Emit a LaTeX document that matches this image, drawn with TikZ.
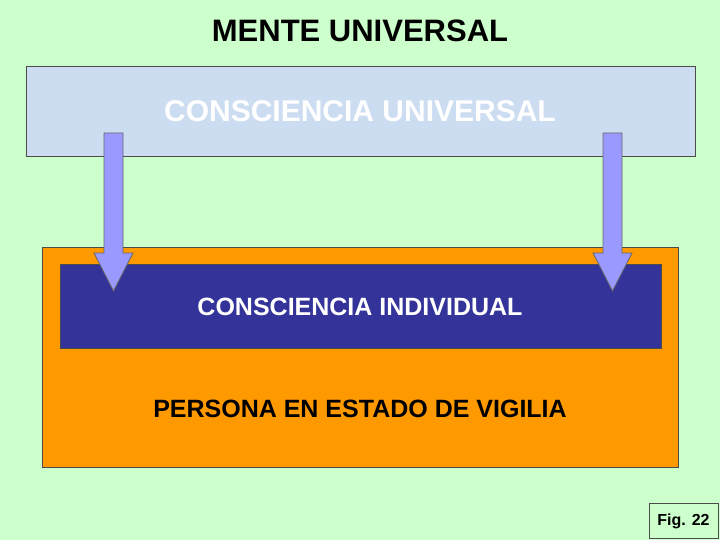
\documentclass[tikz,border=0pt]{standalone}
\usepackage{fontspec}
\setmainfont{Liberation Sans}
\definecolor{bg}{HTML}{CCFFCC}
\definecolor{lblue}{HTML}{CCDDF2}
\definecolor{orng}{HTML}{FF9900}
\definecolor{dblue}{HTML}{333399}
\definecolor{arr}{HTML}{9999FF}
\tikzset{
  boxst/.style={draw=black!70, line width=0.8pt},
  arrowst/.style={fill=arr, draw=black!60, line width=0.8pt},
  lbl/.style={font=\bfseries\fontsize{#1}{#1}\selectfont, inner sep=0pt}
}
\begin{document}
\begin{tikzpicture}[x=1pt,y=-1pt]
\fill[bg] (0,0) rectangle (720,540);
\useasboundingbox (0,0) rectangle (720,540);
\node[lbl=31] (title) at (360,31) {MENTE UNIVERSAL};
\draw[boxst, fill=lblue] (26,66) rectangle (695,156);
\node[lbl=30, text=white] (cu) at (360,111) {CONSCIENCIA UNIVERSAL};
\draw[boxst, fill=orng] (42,247) rectangle (678,467);
\draw[boxst, fill=dblue] (60,264) rectangle (661,348);
\node[lbl=25, text=white] (ci) at (360,307) {CONSCIENCIA INDIVIDUAL};
\node[lbl=25] (pe) at (360,409) {PERSONA EN ESTADO DE VIGILIA};
\foreach \c in {113.5,612.5}{
  \draw[arrowst] (\c-9.5,133) -- (\c+9.5,133) -- (\c+9.5,253) -- (\c+19.5,253) -- (\c,291) -- (\c-19.5,253) -- (\c-9.5,253) -- cycle;
}
\draw[boxst, fill=bg] (649,503) rectangle (718,538);
\node[lbl=16] (fig) at (683.5,521) {Fig. 22};
\end{tikzpicture}
\end{document}
